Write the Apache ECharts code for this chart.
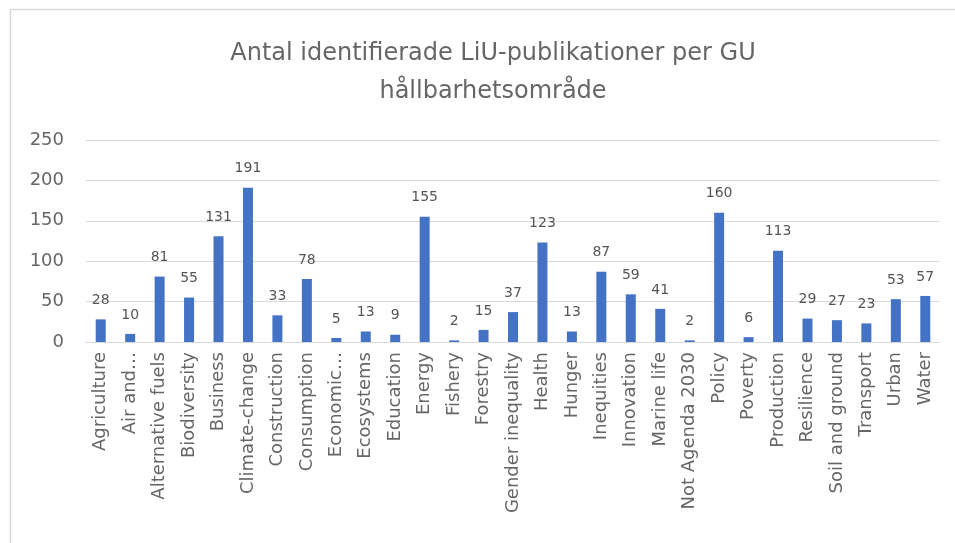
<!DOCTYPE html>
<html>
<head>
<meta charset="utf-8">
<script src="https://cdn.jsdelivr.net/npm/echarts@6/dist/echarts.min.js"></script>
<style>
  html, body { margin: 0; padding: 0; background: #fff; }
  #chart { width: 955px; height: 543px; }
</style>
</head>
<body>
<div id="chart"></div>
<script>
const categories = [
  'Agriculture', 'Air and…', 'Alternative fuels', 'Biodiversity', 'Business',
  'Climate-change', 'Construction', 'Consumption', 'Economic…', 'Ecosystems',
  'Education', 'Energy', 'Fishery', 'Forestry', 'Gender inequality', 'Health',
  'Hunger', 'Inequities', 'Innovation', 'Marine life', 'Not Agenda 2030',
  'Policy', 'Poverty', 'Production', 'Resilience', 'Soil and ground',
  'Transport', 'Urban', 'Water'
];
const publications = [
  28, 10, 81, 55, 131, 191, 33, 78, 5, 13, 9, 155, 2, 15, 37, 123,
  13, 87, 59, 41, 2, 160, 6, 113, 29, 27, 23, 53, 57
];
const yTicks = [0, 50, 100, 150, 200, 250];

const chart = echarts.init(document.getElementById('chart'), null, { renderer: 'canvas' });

chart.setOption({
  animation: false,
  textStyle: { fontFamily: 'DejaVu Sans' },
  title: {
    text: 'Antal identifierade LiU-publikationer per GU\nhållbarhetsområde',
    left: 488,
    textAlign: 'center',
    top: 30,
    textStyle: {
      fontFamily: 'DejaVu Sans',
      fontSize: 24,
      fontWeight: 'normal',
      color: '#666666',
      lineHeight: 38
    }
  },
  graphic: [{
    type: 'rect',
    shape: { x: 10.5, y: 9.5, width: 1000, height: 600 },
    style: { fill: 'none', stroke: '#d9d9d9', lineWidth: 1.5 },
    silent: true
  }],
  grid: {
    left: 86,
    right: 15,
    top: 140,
    bottom: 201
  },
  xAxis: {
    type: 'category',
    data: categories,
    axisTick: { show: false },
    axisLine: { lineStyle: { color: '#d9d9d9', width: 1 } },
    axisLabel: {
      rotate: 90,
      interval: 0,
      fontSize: 18,
      color: '#666666',
      margin: 10
    }
  },
  yAxis: {
    type: 'value',
    min: yTicks[0],
    max: yTicks[yTicks.length - 1],
    interval: 50,
    axisLine: { show: false },
    axisTick: { show: false },
    splitLine: { lineStyle: { color: '#d9d9d9', width: 1 } },
    axisLabel: { fontSize: 18, color: '#666666', margin: 22 }
  },
  series: [{
    type: 'bar',
    data: publications,
    barWidth: 10,
    itemStyle: { color: '#4472c4' },
    label: {
      show: true,
      position: 'top',
      distance: 12,
      fontSize: 14,
      color: '#555555'
    }
  }]
});
</script>
</body>
</html>
